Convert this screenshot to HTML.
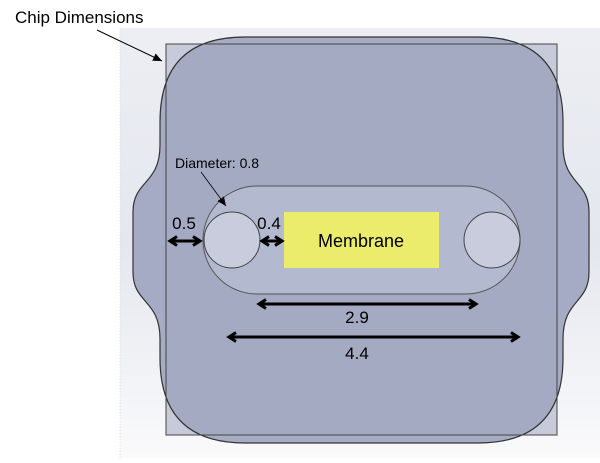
<!DOCTYPE html>
<html><head><style>
body{margin:0;width:600px;height:458px;overflow:hidden;background:#fff;font-family:"Liberation Sans",sans-serif}
</style></head><body>
<svg width="600" height="458" viewBox="0 0 600 458" xmlns="http://www.w3.org/2000/svg">
<defs>
<linearGradient id="bg" x1="0" y1="0" x2="0" y2="1">
<stop offset="0" stop-color="#eceef3"/><stop offset="0.5" stop-color="#e4e7ee"/><stop offset="1" stop-color="#fafafb"/>
</linearGradient>
<marker id="ah" markerWidth="12" markerHeight="12" refX="8" refY="6" orient="auto-start-reverse" markerUnits="userSpaceOnUse">
<path d="M1,1.5 L8,6 L1,10.5" fill="none" stroke="#000" stroke-width="3"/>
</marker>
<marker id="ah2" markerWidth="10" markerHeight="10" refX="9" refY="5" orient="auto" markerUnits="userSpaceOnUse">
<path d="M0,1 L9,5 L0,9 Z" fill="#000"/>
</marker>
</defs>
<rect x="120" y="28" width="480" height="430" fill="url(#bg)"/>
<line x1="120" y1="28" x2="120" y2="458" stroke="#ddd" stroke-width="1" stroke-dasharray="1,2"/>
<rect x="166" y="44" width="391" height="391" fill="#c6cad9" stroke="#444" stroke-width="1"/>
<path d="M245,37 L478,37 Q563,37 563,122 L563,145 C563,185 589,180 589,212 L589,272 C589,304 563,299 563,339 L563,358 Q563,443 478,443 L245,443 Q160,443 160,358 L160,339 C160,299 133,304 133,272 L133,212 C133,180 160,185 160,145 L160,122 Q160,37 245,37 Z" fill="#a1a8c1" stroke="#333" stroke-width="1.2" fill-opacity="0.95"/>
<line x1="166" y1="44" x2="166" y2="435" stroke="#444" stroke-width="1"/>
<line x1="557" y1="44" x2="557" y2="435" stroke="#444" stroke-width="1"/>
<line x1="166" y1="435" x2="557" y2="435" stroke="#444" stroke-width="1"/>
<line x1="166" y1="44" x2="557" y2="44" stroke="#444" stroke-width="1"/>
<rect x="203" y="186" width="317" height="108" rx="54" fill="#b3b9cf" stroke="#555" stroke-width="1"/>
<circle cx="232" cy="240" r="28" fill="#c8ccdc" stroke="#444" stroke-width="1"/>
<circle cx="492" cy="240" r="28" fill="#c8ccdc" stroke="#444" stroke-width="1"/>
<rect x="284" y="212" width="155" height="56" fill="#ebeb6c"/>
<text x="361" y="247" font-size="18" text-anchor="middle" fill="#000">Membrane</text>
<line x1="170" y1="241" x2="200" y2="241" stroke="#000" stroke-width="3" marker-start="url(#ah)" marker-end="url(#ah)"/>
<line x1="262" y1="241" x2="282" y2="241" stroke="#000" stroke-width="3" marker-start="url(#ah)" marker-end="url(#ah)"/>
<line x1="259" y1="304" x2="476" y2="304" stroke="#000" stroke-width="3" marker-start="url(#ah)" marker-end="url(#ah)"/>
<line x1="229" y1="337" x2="518" y2="337" stroke="#000" stroke-width="3" marker-start="url(#ah)" marker-end="url(#ah)"/>
<text x="184" y="229" font-size="17" text-anchor="middle">0.5</text>
<text x="269" y="229" font-size="17" text-anchor="middle">0.4</text>
<text x="357" y="323" font-size="17" text-anchor="middle">2.9</text>
<text x="357" y="359" font-size="17" text-anchor="middle">4.4</text>
<text x="175" y="168" font-size="14">Diameter: 0.8</text>
<line x1="201" y1="172" x2="226" y2="206" stroke="#000" stroke-width="0.8" marker-end="url(#ah2)"/>
<text x="15" y="23" font-size="17">Chip Dimensions</text>
<line x1="97" y1="30" x2="162" y2="61" stroke="#000" stroke-width="1" marker-end="url(#ah2)"/>
</svg>
</body></html>
